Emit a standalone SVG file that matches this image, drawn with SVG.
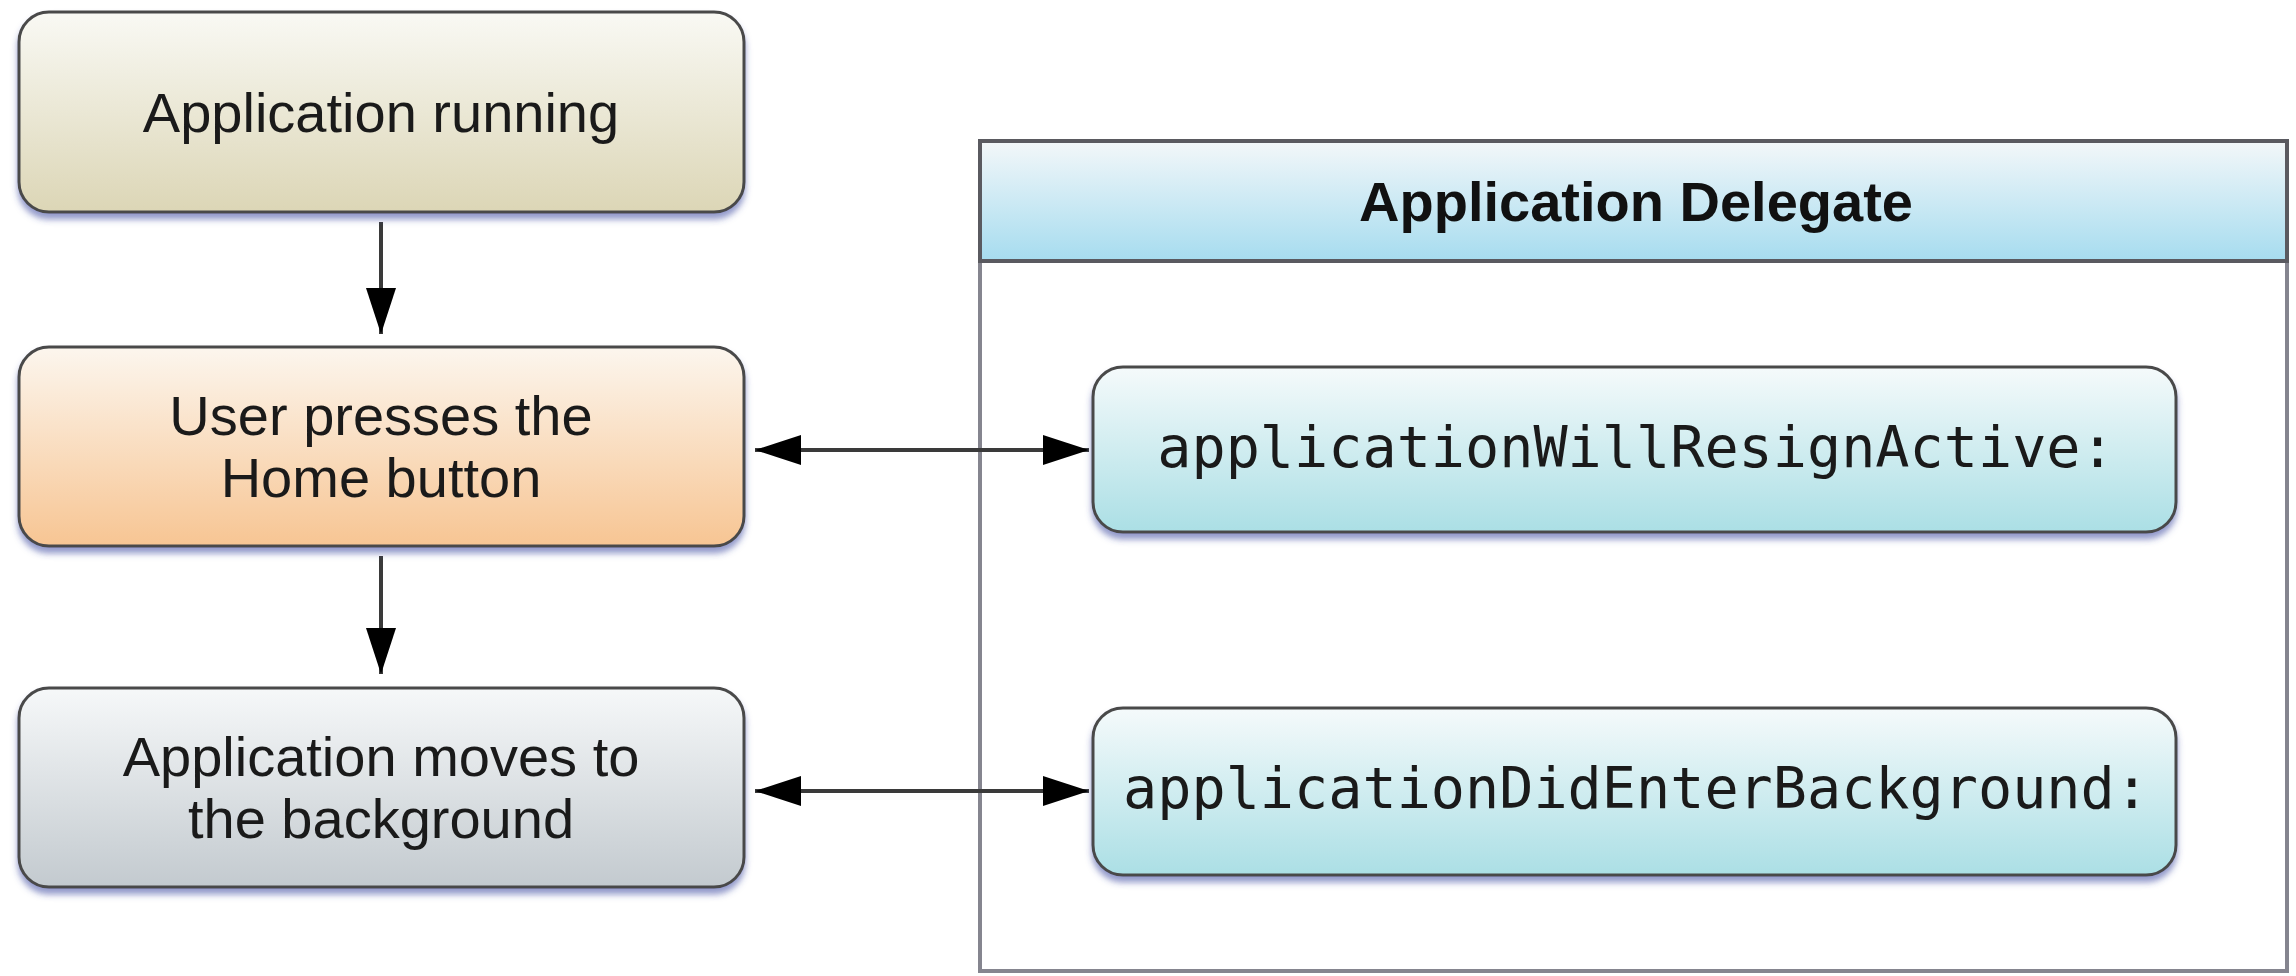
<svg xmlns="http://www.w3.org/2000/svg" width="2296" height="976" viewBox="0 0 2296 976">
<defs>
<linearGradient id="gBeige" x1="0" y1="0" x2="0" y2="1"><stop offset="0" stop-color="#f9f9f4"/><stop offset="1" stop-color="#dcd6b6"/></linearGradient>
<linearGradient id="gOrange" x1="0" y1="0" x2="0" y2="1"><stop offset="0" stop-color="#fcf6ee"/><stop offset="1" stop-color="#f7c593"/></linearGradient>
<linearGradient id="gGray" x1="0" y1="0" x2="0" y2="1"><stop offset="0" stop-color="#f6f8f9"/><stop offset="1" stop-color="#c3cacf"/></linearGradient>
<linearGradient id="gHeader" x1="0" y1="0" x2="0" y2="1"><stop offset="0" stop-color="#f3f7f9"/><stop offset="1" stop-color="#a6dcef"/></linearGradient>
<linearGradient id="gCyan" x1="0" y1="0" x2="0" y2="1"><stop offset="0" stop-color="#f5fafb"/><stop offset="1" stop-color="#abdfe5"/></linearGradient>
<filter id="sh" x="-5%" y="-10%" width="110%" height="130%"><feDropShadow dx="0" dy="6" stdDeviation="3" flood-color="#3a46a0" flood-opacity="0.55"/></filter>
<marker id="ah" viewBox="0 0 46 30" refX="46" refY="15" markerWidth="46" markerHeight="30" markerUnits="userSpaceOnUse" orient="auto-start-reverse"><path d="M0,0 L46,15 L0,30 Z" fill="#000"/></marker>
<style>
.box{stroke:#4a4a4a;stroke-width:3;filter:url(#sh)}
.lbl{font-family:"Liberation Sans",Arial,sans-serif;font-size:56px;fill:#1a1a1a;text-anchor:middle}
.hdr{font-family:"Liberation Sans",Arial,sans-serif;font-size:56px;font-weight:bold;fill:#111;text-anchor:middle}
.mono{font-family:"DejaVu Sans Mono","Liberation Mono",monospace;font-size:56.8px;fill:#1a1a1a;text-anchor:middle}
.conn{stroke:#3a3a3a;stroke-width:4;fill:none}
</style>
</defs>
<rect width="2296" height="976" fill="#fff"/>
<g id="delegate">
<rect x="980" y="141" width="1307" height="830" fill="#fff" stroke="#85858f" stroke-width="4"/>
<rect x="980" y="141" width="1307" height="120" fill="url(#gHeader)" stroke="#5a5a60" stroke-width="4"/>
<text class="hdr" x="1636" y="221">Application Delegate</text>
</g>
<g id="connectors">
<line class="conn" x1="381" y1="222" x2="381" y2="334" marker-end="url(#ah)"/>
<line class="conn" x1="381" y1="556" x2="381" y2="674" marker-end="url(#ah)"/>
<line class="conn" x1="755" y1="450" x2="1089" y2="450" marker-start="url(#ah)" marker-end="url(#ah)"/>
<line class="conn" x1="755" y1="791" x2="1089" y2="791" marker-start="url(#ah)" marker-end="url(#ah)"/>
</g>
<g id="app-running">
<rect class="box" x="19" y="12" width="725" height="200" rx="30" fill="url(#gBeige)"/>
<text class="lbl" x="381" y="132">Application running</text>
</g>
<g id="home-button">
<rect class="box" x="19" y="347" width="725" height="199" rx="30" fill="url(#gOrange)"/>
<text class="lbl" x="381" y="435">User presses the</text>
<text class="lbl" x="381" y="497">Home button</text>
</g>
<g id="background">
<rect class="box" x="19" y="688" width="725" height="199" rx="30" fill="url(#gGray)"/>
<text class="lbl" x="381" y="776">Application moves to</text>
<text class="lbl" x="381" y="838">the background</text>
</g>
<g id="will-resign">
<rect class="box" x="1093" y="367" width="1083" height="165" rx="30" fill="url(#gCyan)"/>
<text class="mono" x="1636" y="467">applicationWillResignActive:</text>
</g>
<g id="did-enter">
<rect class="box" x="1093" y="708" width="1083" height="167" rx="30" fill="url(#gCyan)"/>
<text class="mono" x="1636" y="808">applicationDidEnterBackground:</text>
</g>
</svg>
